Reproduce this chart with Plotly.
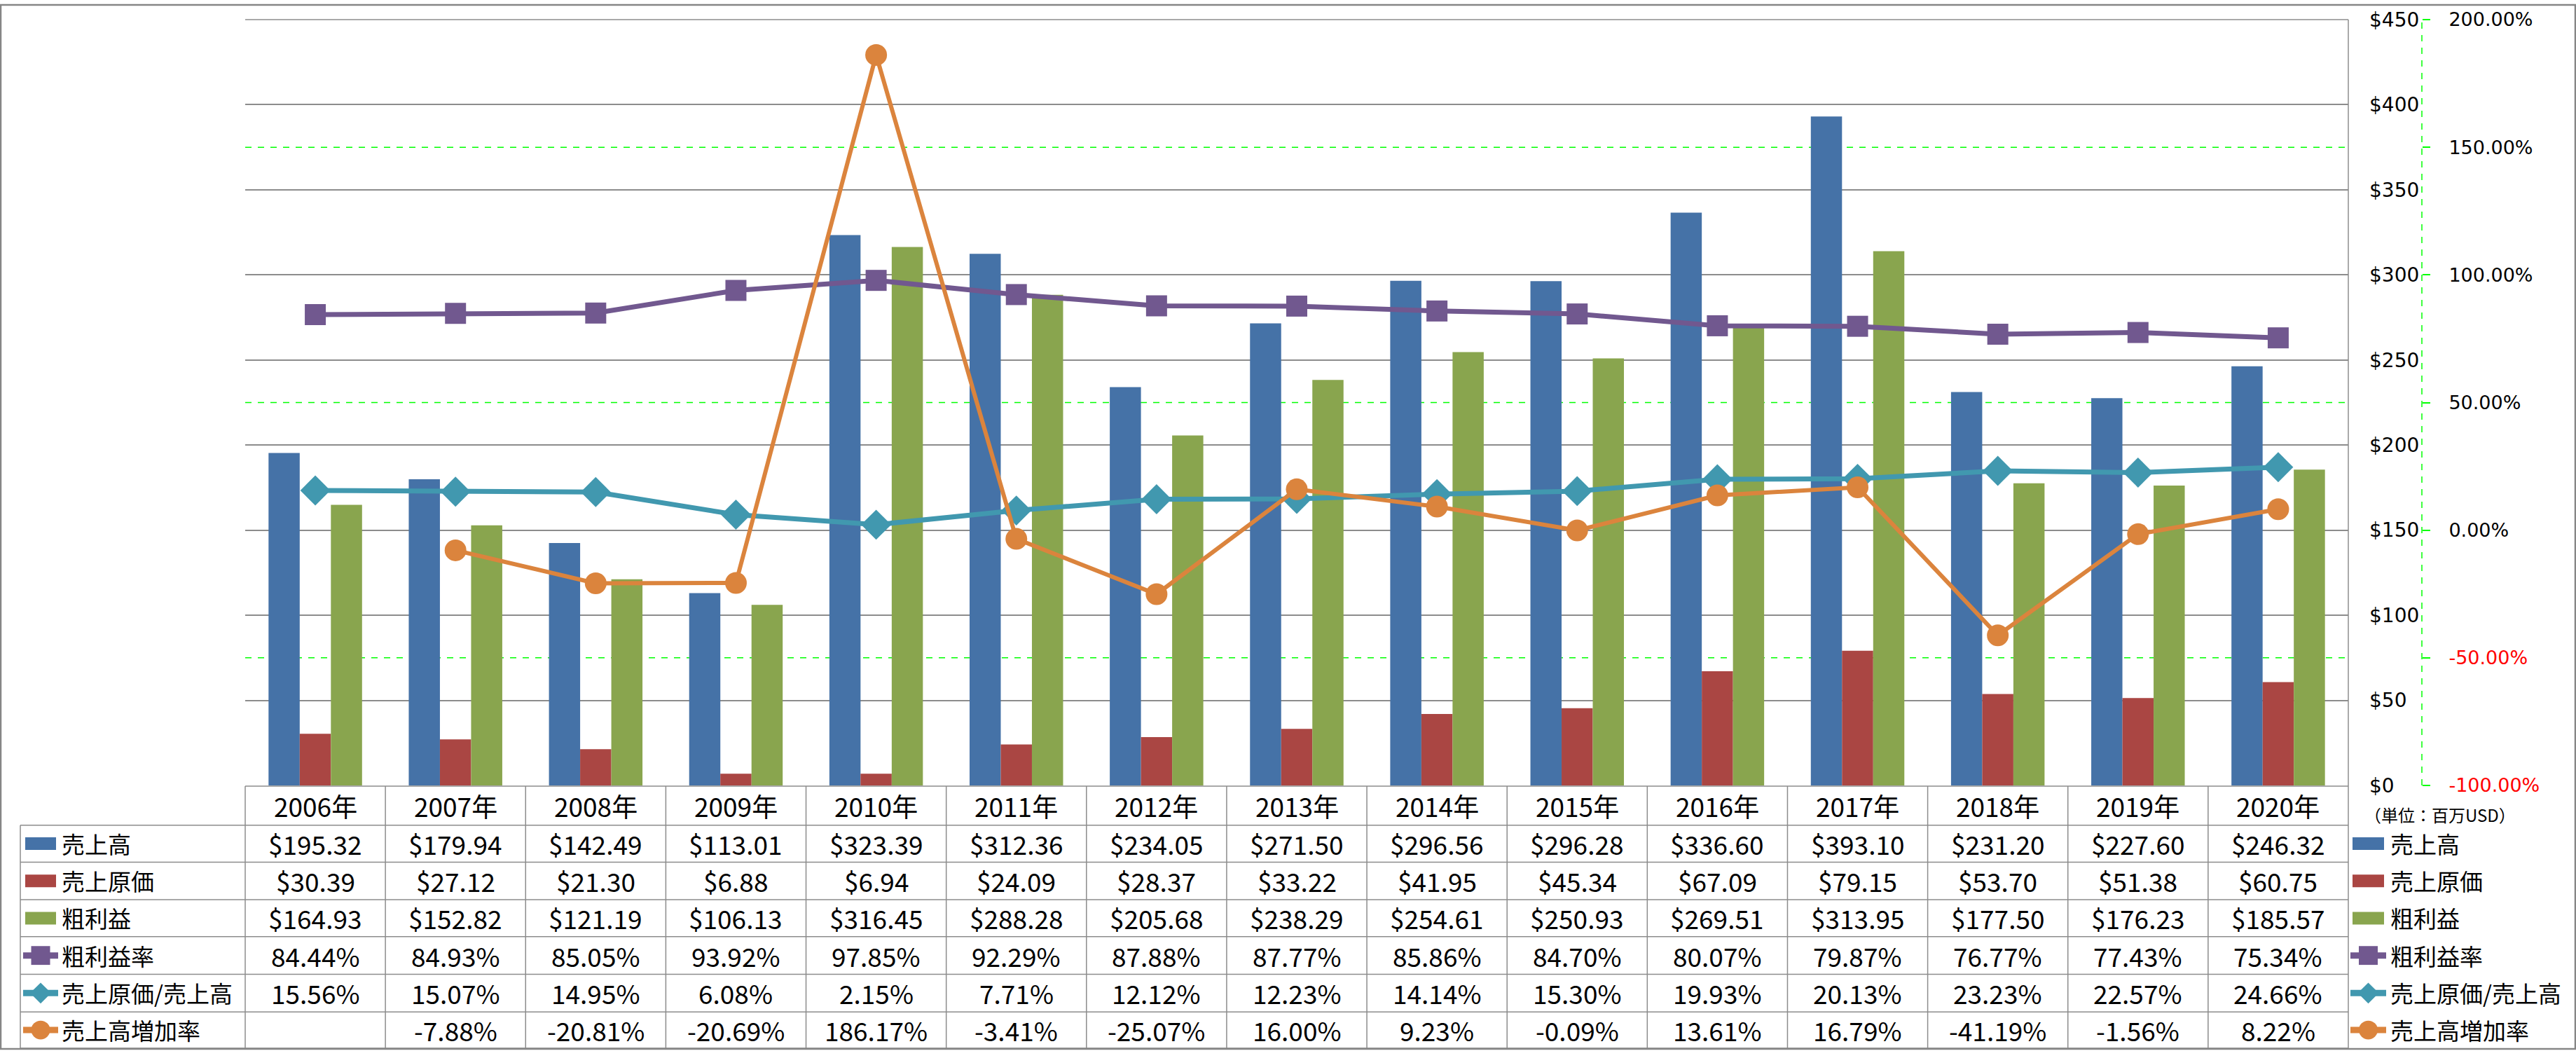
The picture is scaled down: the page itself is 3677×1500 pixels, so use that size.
import plotly.graph_objects as go

# ---------------- data ----------------
years = ["2006年", "2007年", "2008年", "2009年", "2010年", "2011年", "2012年", "2013年",
         "2014年", "2015年", "2016年", "2017年", "2018年", "2019年", "2020年"]
sales = [195.32, 179.94, 142.49, 113.01, 323.39, 312.36, 234.05, 271.50,
         296.56, 296.28, 336.60, 393.10, 231.20, 227.60, 246.32]
cogs = [30.39, 27.12, 21.30, 6.88, 6.94, 24.09, 28.37, 33.22,
        41.95, 45.34, 67.09, 79.15, 53.70, 51.38, 60.75]
gross = [164.93, 152.82, 121.19, 106.13, 316.45, 288.28, 205.68, 238.29,
         254.61, 250.93, 269.51, 313.95, 177.50, 176.23, 185.57]
gross_margin = [84.44, 84.93, 85.05, 93.92, 97.85, 92.29, 87.88, 87.77,
                85.86, 84.70, 80.07, 79.87, 76.77, 77.43, 75.34]
cost_ratio = [15.56, 15.07, 14.95, 6.08, 2.15, 7.71, 12.12, 12.23,
              14.14, 15.30, 19.93, 20.13, 23.23, 22.57, 24.66]
growth = [None, -7.88, -20.81, -20.69, 186.17, -3.41, -25.07, 16.00,
          9.23, -0.09, 13.61, 16.79, -41.19, -1.56, 8.22]

y1_ticks = [0, 50, 100, 150, 200, 250, 300, 350, 400, 450]
y2_ticks = [-100, -50, 0, 50, 100, 150, 200]

names = ["売上高", "売上原価", "粗利益", "粗利益率", "売上原価/売上高", "売上高増加率"]
colors = ["#4572A7", "#AA4643", "#89A54E", "#71588F", "#4198AF", "#DB843D"]

# ---------------- geometry helpers (pixels -> paper) ----------------
W, H = 3677, 1500
L, RE, T, BE = 350, 3457, 22, 1121
PW, PH = RE - L, BE - T


def fx(p):
    return (p - L) / PW


def fy(p):
    return (BE - p) / PH


XDOM = fx(3352)
GRID = "#8C8C8C"
GREEN = "#00FF00"
NUMFONT = "Liberation Sans Narrow, Arial Narrow, Noto Sans CJK JP, sans-serif"
JPFONT = "Noto Sans CJK JP, sans-serif"

fig = go.Figure()

# bars
for vals, nm, col in zip([sales, cogs, gross], names[:3], colors[:3]):
    fig.add_trace(go.Bar(x=years, y=vals, name=nm, marker=dict(color=col, line=dict(width=0)),
                         yaxis="y"))

# lines on secondary axis
fig.add_trace(go.Scatter(x=years, y=gross_margin, name=names[3], yaxis="y2", mode="lines+markers",
                         line=dict(color=colors[3], width=7),
                         marker=dict(symbol="square", size=30, color=colors[3])))
fig.add_trace(go.Scatter(x=years, y=cost_ratio, name=names[4], yaxis="y2", mode="lines+markers",
                         line=dict(color=colors[4], width=7),
                         marker=dict(symbol="diamond", size=33, color=colors[4])))
fig.add_trace(go.Scatter(x=years, y=growth, name=names[5], yaxis="y2", mode="lines+markers",
                         line=dict(color=colors[5], width=6),
                         marker=dict(symbol="circle", size=31, color=colors[5])))

shapes = []
annotations = []

# green dashed gridlines for secondary axis (below gray grid), not at the plot edges
for v in y2_ticks[1:-1]:
    shapes.append(dict(type="line", xref="paper", yref="y2", x0=0, x1=XDOM, y0=v, y1=v,
                       line=dict(color=GREEN, width=1.5, dash="dash"), layer="below"))
# secondary axis line (dashed green)
shapes.append(dict(type="line", xref="paper", yref="paper", x0=1, x1=1, y0=0, y1=1,
                   line=dict(color=GREEN, width=1.5, dash="dash"), layer="above"))

# top gray line of the plot area
shapes.append(dict(type="line", xref="paper", yref="paper", x0=0, x1=XDOM, y0=1, y1=1,
                   line=dict(color=GRID, width=1.5), layer="below"))
# plot right border / table right border
shapes.append(dict(type="line", xref="paper", yref="paper", x0=XDOM, x1=XDOM, y0=fy(22), y1=fy(1498),
                   line=dict(color=GRID, width=1.5), layer="above"))

# table lines
row_lines = [1178, 1231, 1285, 1338, 1392, 1446, 1498]
shapes.append(dict(type="line", xref="paper", yref="paper", x0=0, x1=XDOM, y0=fy(1122), y1=fy(1122),
                   line=dict(color=GRID, width=1.5)))
for yl in row_lines:
    shapes.append(dict(type="line", xref="paper", yref="paper", x0=fx(29), x1=XDOM, y0=fy(yl), y1=fy(yl),
                       line=dict(color=GRID, width=1.5)))
shapes.append(dict(type="line", xref="paper", yref="paper", x0=fx(29), x1=fx(29), y0=fy(1178), y1=fy(1498),
                   line=dict(color=GRID, width=1.5)))
shapes.append(dict(type="line", xref="paper", yref="paper", x0=0, x1=0, y0=fy(1122), y1=fy(1498),
                   line=dict(color=GRID, width=1.5)))
for k in range(1, len(years)):
    shapes.append(dict(type="line", xref="x", yref="paper", x0=k - 0.5, x1=k - 0.5, y0=fy(1122), y1=fy(1498),
                       line=dict(color=GRID, width=1.5)))

# outer chart border
shapes.append(dict(type="rect", xref="paper", yref="paper", x0=fx(1), x1=fx(W - 1), y0=fy(1), y1=fy(H - 1),
                   line=dict(color="#868686", width=2.5)))

# header row (years)
for yr in years:
    annotations.append(dict(x=yr, xref="x", y=fy(1150), yref="paper", text=yr, showarrow=False,
                            xanchor="center", yanchor="middle", font=dict(family=NUMFONT, size=37, color="black")))

row_centers = [1204.5, 1258, 1311.5, 1365, 1419, 1472]
money = lambda v: "" if v is None else f"${v:.2f}"
pct = lambda v: "" if v is None else f"{v:.2f}%"
rows = [(sales, money), (cogs, money), (gross, money),
        (gross_margin, pct), (cost_ratio, pct), (growth, pct)]
for (vals, fmt), yc in zip(rows, row_centers):
    for yr, v in zip(years, vals):
        if v is None:
            continue
        annotations.append(dict(x=yr, xref="x", y=fy(yc), yref="paper", text=fmt(v), showarrow=False,
                                xanchor="center", yanchor="middle",
                                font=dict(family=NUMFONT, size=37, color="black")))


def add_key(i, yc, x_line0, x_line1, text_x):
    col = colors[i]
    cx = (x_line0 + x_line1) / 2
    if i < 3:
        shapes.append(dict(type="rect", xref="paper", yref="paper", x0=fx(x_line0 + 3), x1=fx(x_line1 - 3),
                           y0=fy(yc - 9), y1=fy(yc + 9), fillcolor=col, line=dict(width=0)))
    else:
        shapes.append(dict(type="line", xref="paper", yref="paper", x0=fx(x_line0), x1=fx(x_line1),
                           y0=fy(yc), y1=fy(yc), line=dict(color=col, width=9)))
        r = 13.5
        if i == 3:
            shapes.append(dict(type="rect", xref="paper", yref="paper", x0=fx(cx - r), x1=fx(cx + r),
                               y0=fy(yc - r), y1=fy(yc + r), fillcolor=col, line=dict(width=0)))
        elif i == 4:
            path = (f"M {fx(cx - 15)} {fy(yc)} L {fx(cx)} {fy(yc - 15)} "
                    f"L {fx(cx + 15)} {fy(yc)} L {fx(cx)} {fy(yc + 15)} Z")
            shapes.append(dict(type="path", xref="paper", yref="paper", path=path, fillcolor=col,
                               line=dict(width=0)))
        else:
            shapes.append(dict(type="circle", xref="paper", yref="paper", x0=fx(cx - r), x1=fx(cx + r),
                               y0=fy(yc - r), y1=fy(yc + r), fillcolor=col, line=dict(width=0)))
    annotations.append(dict(x=fx(text_x), xref="paper", y=fy(yc), yref="paper", text=names[i],
                            showarrow=False, xanchor="left", yanchor="middle",
                            font=dict(family=JPFONT, size=33, color="black")))


for i, yc in enumerate(row_centers):
    add_key(i, yc, 33, 83, 86)        # table row headers
    add_key(i, yc, 3355, 3406, 3410)  # right legend

annotations.append(dict(x=fx(3373), xref="paper", y=fy(1163), yref="paper", text="（単位：百万USD）",
                        showarrow=False, xanchor="left", yanchor="middle",
                        font=dict(family=JPFONT, size=24, color="black")))

y1_text = [f"${v}" for v in y1_ticks]
y2_text = [f'<span style="color:#FF0000">{v:.2f}%</span>' if v < 0 else f"{v:.2f}%" for v in y2_ticks]

fig.update_layout(
    width=W, height=H,
    margin=dict(l=L, r=W - RE, t=T, b=H - BE, pad=0),
    paper_bgcolor="white", plot_bgcolor="white",
    barmode="group", bargap=0.333, bargroupgap=0,
    showlegend=False,
    font=dict(family="DejaVu Sans", size=27, color="black"),
    xaxis=dict(domain=[0, XDOM], showticklabels=False, ticks="", showgrid=False, zeroline=False,
               showline=False, range=[-0.5, len(years) - 0.5]),
    yaxis=dict(side="right", range=[0, 450], tickvals=y1_ticks, ticktext=y1_text,
               showgrid=True, gridcolor=GRID, gridwidth=1.5, zeroline=False, showline=False,
               ticks="", ticklabelstandoff=29, tickfont=dict(family="DejaVu Sans", size=28, color="black")),
    yaxis2=dict(overlaying="y", side="right", anchor="free", position=1.0, range=[-100, 200],
                tickvals=y2_ticks, ticktext=y2_text, showgrid=False, zeroline=False, showline=False,
                ticks="outside", ticklen=11, tickwidth=1.5, tickcolor=GREEN, ticklabelstandoff=21,
                tickfont=dict(family="DejaVu Sans", size=27, color="black")),
    shapes=shapes,
    annotations=annotations,
)

fig.write_html("out.html", config={"displayModeBar": False},
               post_script="document.body.style.margin='0';document.body.style.overflow='hidden';")
